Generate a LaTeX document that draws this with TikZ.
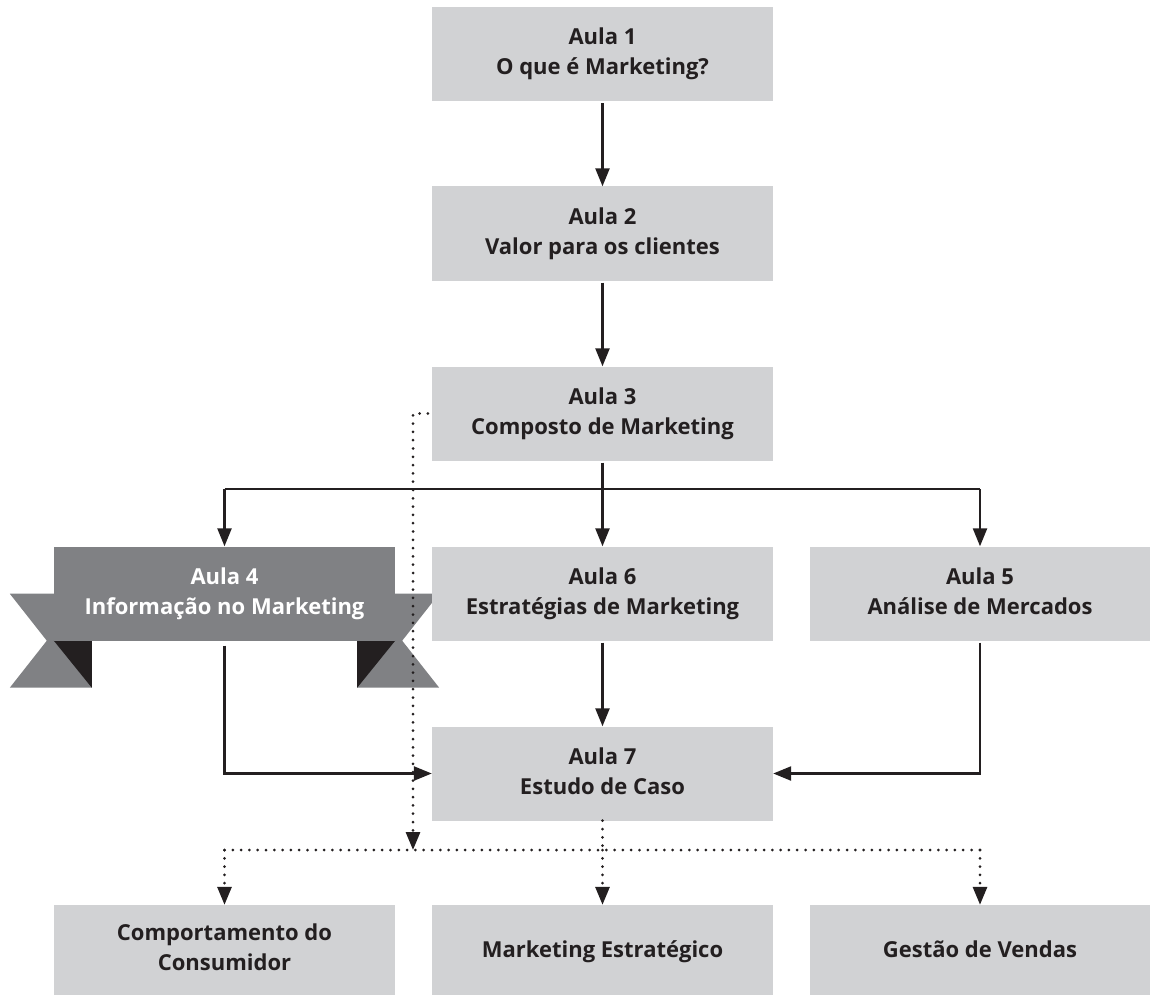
\documentclass[tikz,border=0pt]{standalone}
\usepackage{fontspec}
\setmainfont{Open Sans}
\usetikzlibrary{arrows.meta}
\usetikzlibrary{positioning}
\usetikzlibrary{calc}
\usetikzlibrary{backgrounds}
\definecolor{boxgray}{HTML}{D1D2D4}
\definecolor{ribbongray}{HTML}{808184}
\definecolor{inkblack}{HTML}{231F20}

\begin{document}
\begin{tikzpicture}[x=1pt, y=-1pt, >={Triangle[length=18pt, width=14pt]},
    aula/.style={fill=boxgray, text=inkblack, minimum width=341pt,
      minimum height=94pt, inner sep=0pt, align=center,
      font=\fontsize{22}{30}\selectfont\bfseries,
      execute at begin node=\vphantom{Á},
      execute at end node=\vphantom{g}},
    ribbon/.style={aula, fill=ribbongray, text=white},
    course/.style={aula, minimum height=90pt},
    link/.style={draw=inkblack, line width=2.4pt, shorten <=2pt},
    dotlink/.style={draw=inkblack, line width=3pt, line cap=round,
      dash pattern=on 0pt off 8.3pt}]

    \useasboundingbox (0,0) rectangle (1150,995);

    % Main sequence
    \node[aula] (a1) at (602.5, 54) {Aula 1\\O que é Marketing?};
    \node[aula] (a2) at (602.5, 233.5) {Aula 2\\Valor para os clientes};
    \node[aula] (a3) at (602.5, 413.5) {Aula 3\\Composto de Marketing};

    % Row of three
    \node[ribbon] (a4) at (224.5, 593.5) {Aula 4\\Informação no Marketing};
    \node[aula] (a6) at (602.5, 593.5) {Aula 6\\Estratégias de Marketing};
    \node[aula] (a5) at (980, 593.5) {Aula 5\\Análise de Mercados};

    \node[aula] (a7) at (602.5, 773.5) {Aula 7\\Estudo de Caso};

    % Follow-up courses
    \node[course] (comp) at (224.5, 950) {Comportamento do\\Consumidor};
    \node[course] (estr) at (602.5, 950) {Marketing Estratégico};
    \node[course] (vendas) at (980, 950) {Gestão de Vendas};

    % Ribbon tails behind Aula 4
    \begin{scope}[on background layer]
      \fill[ribbongray] ($(a4.south west)+(-44,-47)$) -- ($(a4.south west)+(38,-47)$)
        -- ($(a4.south west)+(38,47)$) -- ($(a4.south west)+(-44,47)$)
        -- ($(a4.south west)+(-7,0)$) -- cycle;
      \fill[inkblack] (a4.south west) -- ($(a4.south west)+(38,0)$)
        -- ($(a4.south west)+(38,47)$) -- cycle;
      \fill[ribbongray] ($(a4.south east)+(44,-47)$) -- ($(a4.south east)+(-38,-47)$)
        -- ($(a4.south east)+(-38,47)$) -- ($(a4.south east)+(44,47)$)
        -- ($(a4.south east)+(7,0)$) -- cycle;
      \fill[inkblack] (a4.south east) -- ($(a4.south east)+(-38,0)$)
        -- ($(a4.south east)+(-38,47)$) -- cycle;
    \end{scope}

    % Solid arrows
    \coordinate (split) at (602.5, 489);
    \draw[link, ->] (a1) -- (a2);
    \draw[link, ->] (a2) -- (a3);
    \draw[link] (a3.south) -- (split);
    \draw[link, shorten <=0pt] (a4.north |- split) -- (a5.north |- split);
    \foreach \n in {a4, a6, a5}
      \draw[link, shorten <=0pt, ->] (\n.north |- split) -- (\n.north);
    \draw[link, shorten <=5pt, ->] (a4.south) |- (a7.west);
    \draw[link, ->] (a5.south) |- (a7.east);
    \draw[link, ->] (a6) -- (a7);

    % Dotted links
    \coordinate (hub) at (602.5, 850);
    \coordinate (drop) at (413, 850);
    \draw[dotlink, ->] ([xshift=-4pt]a3.west) -| (drop);
    \draw[dotlink] (a7.south) -- (hub);
    \draw[dotlink] (comp.north |- hub) -- (vendas.north |- hub);
    \foreach \n in {comp, estr, vendas}
      \draw[dotlink, ->] (\n.north |- hub) -- (\n.north);

\end{tikzpicture}
\end{document}
